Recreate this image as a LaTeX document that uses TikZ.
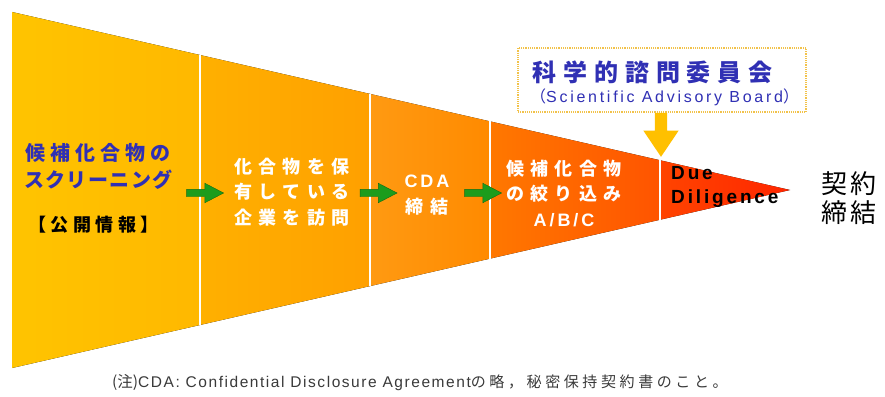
\documentclass[tikz,border=0pt]{standalone}
\usepackage{fontspec}
\setmainfont{Liberation Sans}
\newfontfamily\jp{Noto Sans CJK JP}
\newfontfamily\lat[LetterSpace=16]{Liberation Sans}
\usetikzlibrary{calc,shapes.arrows}
\definecolor{sOnea}{HTML}{FFC400}
\definecolor{sOneb}{HTML}{FFB800}
\definecolor{sTwoa}{HTML}{FFB000}
\definecolor{sTwob}{HTML}{FFA000}
\definecolor{sThra}{HTML}{FF9A12}
\definecolor{sThrb}{HTML}{FF8A00}
\definecolor{sFoua}{HTML}{FF7800}
\definecolor{sFoub}{HTML}{FF5400}
\definecolor{sFiva}{HTML}{FF4400}
\definecolor{sFivb}{HTML}{FF2600}
\definecolor{jblue}{HTML}{3030B4}
\definecolor{agreen}{HTML}{1C9C1C}
\definecolor{agold}{HTML}{FFC000}
\definecolor{boxline}{HTML}{F2C24A}
\definecolor{notegray}{HTML}{3A3A3A}
\begin{document}
\begin{tikzpicture}[x=1pt,y=-1pt,
  divider/.style={draw=white,line width=1.6pt},
  wtxt/.style={text=white,align=center,inner sep=0pt,
     font=\jp\bfseries\fontsize{18}{25.5}\selectfont\addfontfeatures{LetterSpace=35}},
  greenarrow/.style={single arrow,fill=agreen,draw=agreen!70!black,line width=0.4pt,
     inner sep=0pt,inner ysep=3.5pt,minimum height=37pt,
     single arrow head extend=6pt,single arrow tip angle=55},
  goldarrow/.style={single arrow,fill=agold,draw=none,
     inner sep=0pt,inner ysep=6pt,minimum height=44pt,
     single arrow head extend=11.5pt,single arrow tip angle=68,rotate=-90}
]
\useasboundingbox (0,0) rectangle (885,396);
\fill[white] (0,0) rectangle (885,396);
% funnel geometry
\coordinate (TL) at (12,12);
\coordinate (BL) at (12,368);
\coordinate (tip) at (790,190);
\coordinate (t1) at ($(TL)!{188/778}!(tip)$);
\coordinate (b1) at ($(BL)!{188/778}!(tip)$);
\coordinate (t2) at ($(TL)!{358/778}!(tip)$);
\coordinate (b2) at ($(BL)!{358/778}!(tip)$);
\coordinate (t3) at ($(TL)!{478/778}!(tip)$);
\coordinate (b3) at ($(BL)!{478/778}!(tip)$);
\coordinate (t4) at ($(TL)!{648/778}!(tip)$);
\coordinate (b4) at ($(BL)!{648/778}!(tip)$);
\fill[left color=sOnea,right color=sOneb] (TL) -- (t1) -- (b1) -- (BL) -- cycle;
\fill[left color=sTwoa,right color=sTwob] (t1) -- (t2) -- (b2) -- (b1) -- cycle;
\fill[left color=sThra,right color=sThrb] (t2) -- (t3) -- (b3) -- (b2) -- cycle;
\fill[left color=sFoua,right color=sFoub] (t3) -- (t4) -- (b4) -- (b3) -- cycle;
\fill[left color=sFiva,right color=sFivb] (t4) -- (tip) -- (b4) -- cycle;
\draw[divider] (t1) -- (b1);
\draw[divider] (t2) -- (b2);
\draw[divider] (t3) -- (b3);
\draw[divider] (t4) -- (b4);
% stage 1
\node[anchor=west,text=jblue,inner sep=0pt,font=\jp\bfseries\fontsize{20}{20}\selectfont\addfontfeatures{LetterSpace=25}] (s1a) at (25,153) {候補化合物の};
\node[anchor=west,text=jblue,inner sep=0pt,font=\jp\bfseries\fontsize{20}{20}\selectfont\addfontfeatures{LetterSpace=7}] (s1b) at (24,180) {スクリーニング};
\node[anchor=west,text=black,inner sep=0pt,font=\jp\bfseries\fontsize{18}{18}\selectfont\addfontfeatures{LetterSpace=25}] (s1c) at (28,225) {【公開情報】};
% stage 2
\node[wtxt] (s2) at (292,192) {化合物を保\\有している\\企業を訪問};
% stage 3
\node[wtxt] (s3) at (427,195) {{\lat\bfseries CDA}\\締結};
% stage 4
\node[wtxt] (s4) at (564,193) {候補化合物\\の絞り込み\\{\lat\bfseries A/B/C}};
% stage 5
\node[anchor=west,align=left,inner sep=0pt,text=black,font=\bfseries\fontsize{19}{24}\selectfont\addfontfeatures{LetterSpace=15}] (s5) at (671,187) {Due\\Diligence};
% result
\node[anchor=west,align=left,inner sep=0pt,text=black,font=\jp\fontsize{26}{29}\selectfont\addfontfeatures{LetterSpace=14}] (res) at (821,198) {契約\\締結};
% green arrows
\node[greenarrow] (g1) at (201.5,193) {};
\node[greenarrow] (g2) at (375,193) {};
\node[greenarrow] (g3) at (479.5,193) {};
% advisory board box
\node[draw=boxline,densely dotted,line width=1.2pt,minimum width=288pt,minimum height=64pt,inner sep=0pt] (sab) at (662,80) {};
\node[text=jblue,inner sep=0pt,anchor=west,font=\jp\bfseries\fontsize{24}{24}\selectfont\addfontfeatures{LetterSpace=29}] (sabt) at (532,72) {科学的諮問委員会};
\node[text=jblue,inner sep=0pt,anchor=west,font=\fontsize{16}{16}\selectfont\addfontfeatures{LetterSpace=17}] (sabs) at (530,97) {{\jp （}Scientific Advisory Board{\jp ）}};
\node[goldarrow,anchor=tail] (ya) at ($(sab.south)+(-1,0)$) {};
% footnote
\node[anchor=west,inner sep=0pt,text=notegray,font=\fontsize{15.5}{15.5}\selectfont\addfontfeatures{LetterSpace=10}] (note) at (112,383) {{\jp (注)}CDA: Confidential Disclosure Agreement{\jp\fontsize{15}{15}\selectfont\addfontfeatures{LetterSpace=24}の略，秘密保持契約書のこと。}};
\end{tikzpicture}
\end{document}
